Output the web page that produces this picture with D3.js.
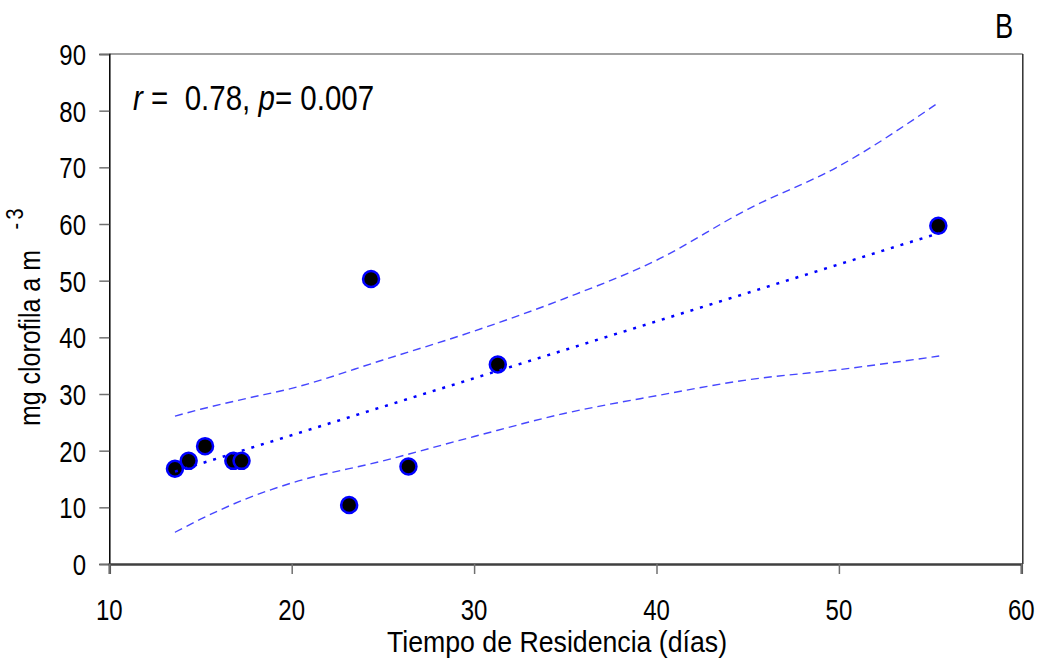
<!DOCTYPE html>
<html>
<head>
<meta charset="utf-8">
<script src="https://cdn.jsdelivr.net/npm/d3@7/dist/d3.min.js"></script>
<style>
  html, body { margin: 0; padding: 0; background: #fff; }
  svg text { font-family: "Liberation Sans", Arial, sans-serif; fill: #000; white-space: pre; }
</style>
</head>
<body>
<svg id="chart" width="1043" height="662"></svg>
<script>
// Residence time (days) vs chlorophyll a (mg m-3)
const residenceDays = [13.6, 14.35, 15.25, 16.8, 17.25, 23.15, 24.35, 26.4, 31.3, 55.45];
const chlorophyll   = [16.8, 18.2, 20.8, 18.2, 18.2, 10.4, 50.3, 17.2, 35.2, 59.7];

// Fitted regression line endpoints
const fitX = [13.6, 55.5];
const fitY = [16.3, 58.4];

// 95% confidence band
const bandX     = [13.6, 15, 17.5, 20, 25, 30, 35, 40, 45, 50, 55.5];
const bandUpper = [26.1, 27.3, 29.2, 31.0, 36.0, 41.1, 46.9, 53.6, 62.6, 70.2, 81.5];
const bandLower = [5.6, 7.9, 11.5, 14.3, 18.2, 22.5, 26.6, 29.7, 32.5, 34.3, 36.7];

const xTicks = [10, 20, 30, 40, 50, 60];
const yTicks = [0, 10, 20, 30, 40, 50, 60, 70, 80, 90];

const svg = d3.select("#chart");
const plotLeft = 109.3, plotRight = 1021.3, plotTop = 54, plotBottom = 564;

const x = d3.scaleLinear().domain([10, 60]).range([plotLeft, plotRight]);
const y = d3.scaleLinear().domain([0, 90]).range([plotBottom, plotTop]);

// narrow text helper: horizontally condensed glyphs
function label(g, tx, ty, str, size, sx, anchor, extra) {
  const t = g.append("text")
    .attr("transform", `translate(${tx},${ty}) scale(${sx},1)`)
    .attr("font-size", size)
    .attr("text-anchor", anchor || "start");
  if (extra) extra(t); else t.text(str);
  return t;
}

// frame: top and right borders
svg.append("line").attr("x1", plotLeft).attr("x2", plotRight + 1.5).attr("y1", plotTop).attr("y2", plotTop)
  .attr("stroke", "#808080").attr("stroke-width", 1.5);
svg.append("line").attr("x1", plotRight + 1.5).attr("x2", plotRight + 1.5).attr("y1", plotTop).attr("y2", plotBottom)
  .attr("stroke", "#303030").attr("stroke-width", 1.5);

// y axis
const yAxis = svg.append("g").attr("transform", `translate(${plotLeft},0)`)
  .call(d3.axisLeft(y).tickValues(yTicks).tickSize(10).tickFormat(""));
yAxis.select(".domain").attr("stroke", "#000").attr("stroke-width", 1.5);
yAxis.selectAll(".tick line").attr("stroke", "#707070").attr("stroke-width", 1.5);
yTicks.forEach(v => label(svg, 86, y(v) + 11, String(v), 30, 0.8, "end"));

// x axis
const xAxis = svg.append("g").attr("transform", `translate(0,${plotBottom})`)
  .call(d3.axisBottom(x).tickValues(xTicks).tickSize(10).tickFormat(""));
xAxis.select(".domain").attr("stroke", "#404040").attr("stroke-width", 2.5);
xAxis.selectAll(".tick line").attr("stroke", "#707070").attr("stroke-width", 1.5);
xTicks.forEach(v => label(svg, x(v), 620, String(v), 30, 0.8, "middle"));

// axis titles
label(svg, 557, 652, "Tiempo de Residencia (días)", 30, 0.89, "middle");
const yt = svg.append("g").attr("transform", "translate(40,426) rotate(-90)");
label(yt, 0, 0, null, 29, 0.86, "start", t => {
  t.append("tspan").text("mg clorofila a m");
  t.append("tspan").attr("dx", 24).attr("dy", -17).attr("font-size", 23)
    .attr("letter-spacing", 4).text("-3");
});

// data points
svg.append("g").selectAll("circle")
  .data(residenceDays.map((d, i) => [d, chlorophyll[i]]))
  .join("circle")
  .attr("cx", d => x(d[0])).attr("cy", d => y(d[1])).attr("r", 8)
  .attr("fill", "#000").attr("stroke", "#0000ff").attr("stroke-width", 2.5);

// confidence band
const bandLine = d3.line().x(d => x(d[0])).y(d => y(d[1])).curve(d3.curveMonotoneX);
[bandUpper, bandLower].forEach(vals => {
  svg.append("path")
    .datum(bandX.map((d, i) => [d, vals[i]]))
    .attr("d", bandLine)
    .attr("fill", "none").attr("stroke", "#4646ff").attr("stroke-width", 1.4)
    .attr("stroke-dasharray", "8,5");
});

// regression line
svg.append("path")
  .datum(fitX.map((d, i) => [d, fitY[i]]))
  .attr("d", d3.line().x(d => x(d[0])).y(d => y(d[1])))
  .attr("fill", "none").attr("stroke", "#0000ff").attr("stroke-width", 2.5)
  .attr("stroke-dasharray", "3,7");

// statistics annotation
label(svg, 133, 110, null, 36, 0.82, "start", t => {
  t.append("tspan").attr("font-style", "italic").text("r");
  t.append("tspan").text(" =  0.78, ");
  t.append("tspan").attr("font-style", "italic").text("p");
  t.append("tspan").text("= 0.007");
});

// panel letter
label(svg, 1004, 38, "B", 35, 0.78, "middle");
</script>
</body>
</html>
